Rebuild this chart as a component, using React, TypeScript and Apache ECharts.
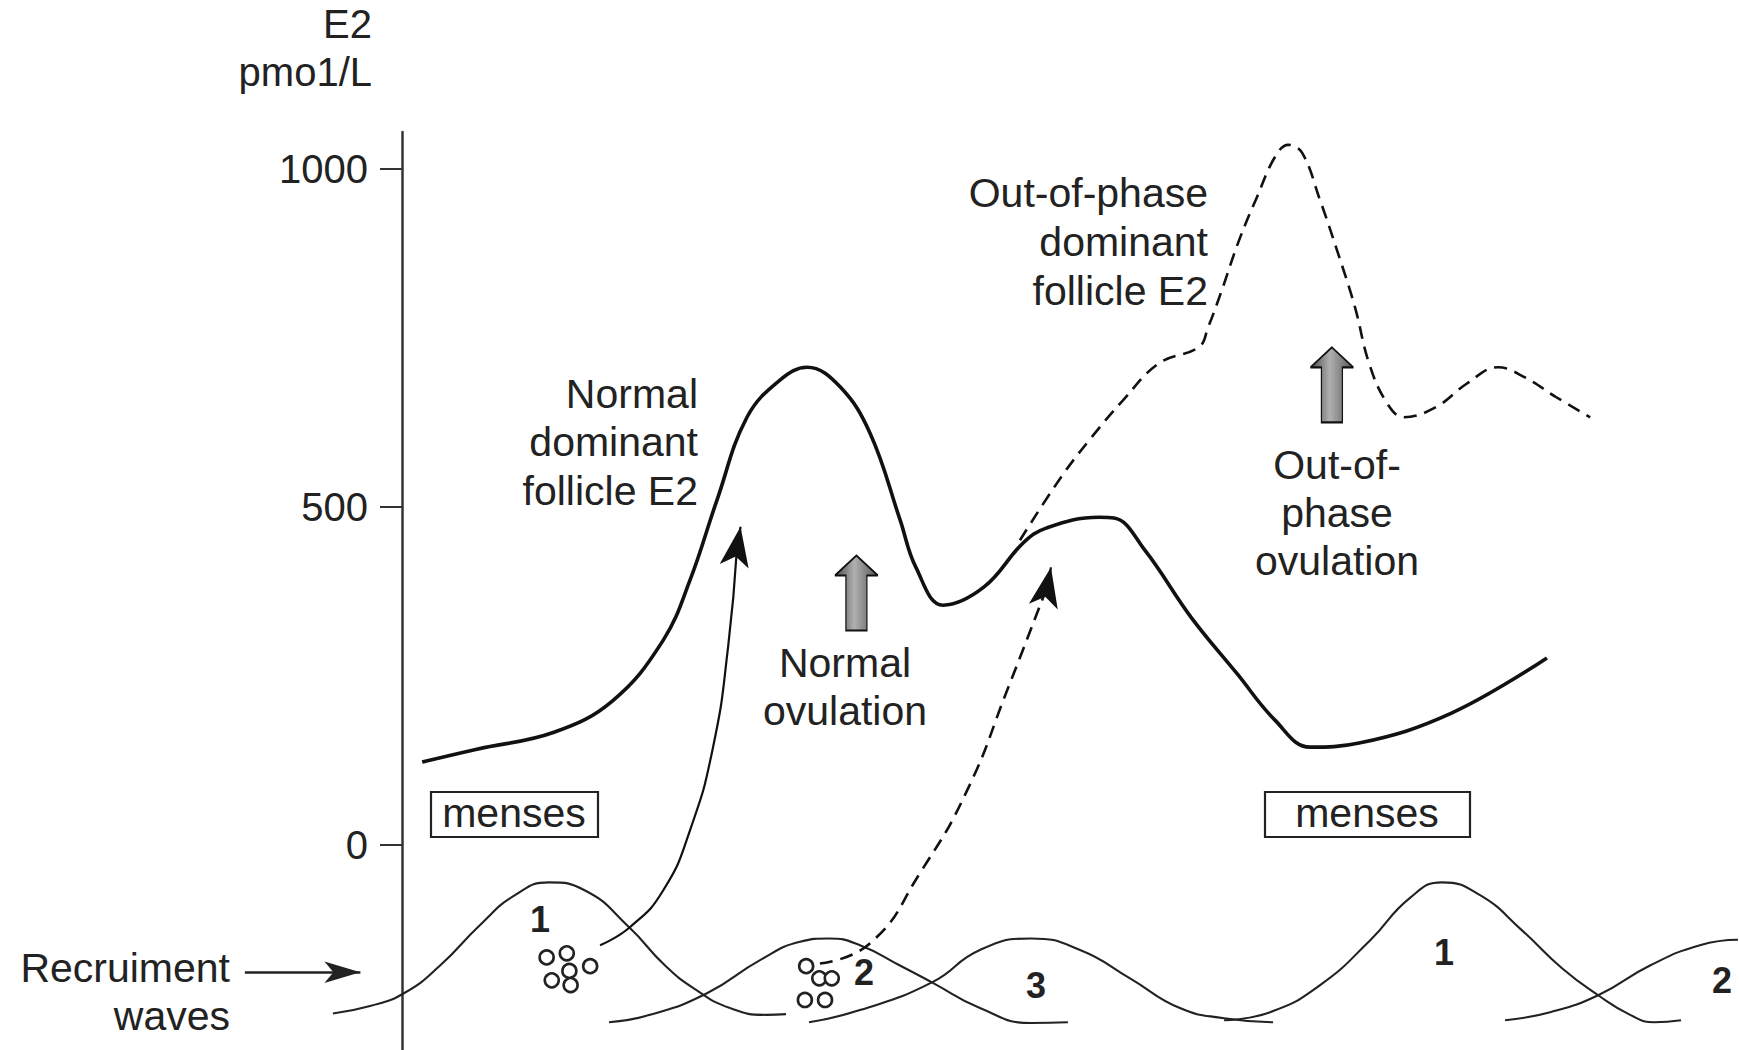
import React, { useEffect, useRef } from "react";
import * as echarts from "echarts";

const FONT = "'Liberation Sans', Arial, Helvetica, sans-serif";

// ---- axis ----
const yTickValues = [0, 500, 1000];
const yAxisTitle = "E2\npmo1/L";

// ---- E2 curves (x: cycle day, y: E2 pmol/L) ----
const normalE2: number[][] = [
  [0.63, 123], [2.34, 142], [4.75, 167], [6.59, 214], [8.16, 303], [9.0, 392],
  [9.84, 510], [10.78, 633], [11.81, 688], [12.66, 707], [13.69, 678], [14.63, 609],
  [15.56, 482], [16.06, 411], [16.91, 355], [18.19, 382], [19.41, 447], [20.13, 469],
  [21.78, 485], [22.25, 484], [23.22, 436], [24.66, 337], [26.09, 254], [27.28, 185],
  [28.38, 145], [29.91, 151], [32.78, 195], [35.78, 277],
];
const outOfPhaseE2: number[][] = [
  [19.31, 451], [20.59, 544], [21.56, 604], [22.53, 658], [23.66, 713], [24.91, 737],
  [25.19, 766], [25.59, 817], [26.16, 895], [26.72, 959], [27.28, 1018], [27.69, 1036],
  [28.13, 1024], [28.69, 954], [29.22, 880], [29.78, 796], [30.22, 713], [30.78, 654],
  [31.31, 633], [32.31, 648], [33.28, 683], [34.25, 707], [35.09, 692], [36.06, 663],
  [37.13, 633],
];

// ---- recruitment waves ----
const wave1a: number[][] = [
  [-2.16, -249], [-1.0, -238], [0.06, -219], [1.19, -178], [2.44, -118], [3.53, -74],
  [4.59, -55], [5.72, -67], [7.09, -121], [8.22, -178], [9.19, -214], [10.25, -241],
  [11.38, -251], [12.0, -250],
];
const wave2a: number[][] = [
  [6.47, -262], [7.75, -251], [9.53, -219], [11.19, -170], [12.44, -143], [13.34, -138],
  [14.31, -148], [15.56, -178], [16.56, -203], [18.06, -241], [19.66, -263], [20.81, -262],
];
const wave3a: number[][] = [
  [12.72, -262], [14.31, -244], [16.56, -203], [18.06, -155], [19.66, -138], [21.19, -155],
  [22.75, -197], [24.31, -241], [25.69, -256], [27.22, -262],
];
const wave1b: number[][] = [
  [25.69, -259], [27.13, -247], [28.69, -207], [30.25, -141], [31.5, -78], [32.5, -55],
  [33.69, -74], [35.0, -126], [36.25, -182], [37.38, -222], [38.38, -251], [39.13, -262],
  [39.97, -259],
];
const wave2b: number[][] = [
  [34.47, -259], [35.88, -247], [37.38, -222], [39.0, -178], [40.56, -148], [41.75, -140],
];

// ---- follicles ----
const follicles1: number[][] = [
  [4.52, -166], [5.15, -160], [5.23, -186], [5.88, -179], [4.68, -200], [5.27, -207],
];
const follicles2: number[][] = [
  [12.63, -179], [13.04, -197], [13.43, -197], [12.59, -229], [13.22, -229],
];

// ---- arrows ----
const normalArrowBody: number[][] = [
  [6.19, -148], [7.13, -121], [8.16, -67], [9.0, 22], [9.72, 145], [10.19, 293], [10.47, 441],
];
const normalArrowHead: number[][] = [[10.44, 430], [10.58, 471]];
const outArrowBody: number[][] = [
  [13.06, -175], [14.63, -145], [16.19, -41], [17.66, 81], [18.91, 229], [20.16, 382],
];
const outArrowHead: number[][] = [[20.12, 372], [20.28, 411]];
const recruitArrow: number[][] = [[-4.91, -188], [-1.3, -188]];

// ---- ovulation block arrows ----
const ovulationArrows: number[][] = [[14.2, 373], [29.06, 681]];

// ---- texts ----
const txtNormalFollicle = "Normal\ndominant\nfollicle E2";
const txtOutFollicle = "Out-of-phase\ndominant\nfollicle E2";
const txtNormalOv = "Normal\novulation";
const txtOutOv = "Out-of-\nphase\novulation";
const txtRecruit = "Recruiment\nwaves";
const txtMenses = "menses";
const waveNumbers = ["1", "2", "3", "1", "2"];

const BLOCK_ARROW = "path://M21.5,0 L43,20 L32,20 L32,75 L11,75 L11,20 L0,20 Z";

function textEl(text: string, x: number, baseline1: number, align: string, size: number, lh: number, bold = false) {
  const top = baseline1 - 0.3465 * size - lh / 2;
  return {
    type: "text",
    x,
    y: top,
    silent: true,
    style: {
      text,
      fill: "#222",
      fontSize: size,
      fontFamily: FONT,
      fontWeight: bold ? "bold" : "normal",
      lineHeight: lh,
      align,
      textAlign: align,
      verticalAlign: "top",
      textVerticalAlign: "top",
    },
  };
}

export default function App() {
  const ref = useRef<HTMLDivElement>(null);
  useEffect(() => {
    if (!ref.current) return;
    const chart = echarts.init(ref.current, null, { renderer: "svg" });
    const waveLine = (name: string, data: number[][]) => ({
      name,
      type: "line",
      data,
      smooth: 0.5,
      symbol: "none",
      silent: true,
      lineStyle: { color: "#222", width: 2.1 },
    });
    const option: any = {
      animation: false,
      backgroundColor: "#ffffff",
      textStyle: { fontFamily: FONT },
      grid: { left: 2, right: 1, top: 132, bottom: 0, containLabel: false, outerBoundsMode: "none" },
      xAxis: {
        type: "value",
        min: -12.5,
        max: 41.75,
        show: false,
        axisLine: { onZero: false },
        splitLine: { show: false },
      },
      yAxis: {
        type: "value",
        min: -303,
        max: 1055,
        position: "left",
        offset: -400,
        name: yAxisTitle,
        nameLocation: "end",
        nameGap: 36,
        nameTextStyle: {
          fontSize: 40,
          lineHeight: 48,
          color: "#222",
          fontFamily: FONT,
          align: "right",
          verticalAlign: "bottom",
          padding: [0, 30, 0, 0],
        },
        axisLine: { show: true, onZero: false, lineStyle: { color: "#333", width: 2.5 } },
        axisTick: { show: true, length: 22, customValues: yTickValues, lineStyle: { color: "#333", width: 2 } },
        axisLabel: {
          customValues: yTickValues,
          margin: 34,
          fontSize: 40,
          color: "#222",
          fontFamily: FONT,
          formatter: (v: number) => String(v),
        },
        splitLine: { show: false },
      },
      series: [
        {
          name: "Normal dominant follicle E2",
          type: "line",
          data: normalE2,
          smooth: 0.4,
          symbol: "none",
          silent: true,
          lineStyle: { color: "#111", width: 3.6 },
          z: 5,
        },
        {
          name: "Out-of-phase dominant follicle E2",
          type: "line",
          data: outOfPhaseE2,
          smooth: 0.4,
          symbol: "none",
          silent: true,
          lineStyle: { color: "#111", width: 2.6, type: [13, 8] },
          z: 4,
        },
        waveLine("Wave 1", wave1a),
        waveLine("Wave 2", wave2a),
        waveLine("Wave 3", wave3a),
        waveLine("Wave 1 (next)", wave1b),
        waveLine("Wave 2 (next)", wave2b),
        {
          name: "Normal recruitment arrow",
          type: "line",
          data: normalArrowBody,
          smooth: 0.5,
          symbol: "none",
          silent: true,
          lineStyle: { color: "#111", width: 2.2 },
        },
        {
          name: "Out-of-phase recruitment arrow",
          type: "line",
          data: outArrowBody,
          smooth: 0.5,
          symbol: "none",
          silent: true,
          lineStyle: { color: "#111", width: 2.6, type: [13, 8] },
        },
        {
          name: "Arrow heads",
          type: "lines",
          coordinateSystem: "cartesian2d",
          silent: true,
          symbol: ["none", "arrow"],
          symbolSize: [8, [22, 40]],
          lineStyle: { color: "#111", width: 2.2, opacity: 1, curveness: 0 },
          itemStyle: { color: "#111" },
          data: [{ coords: normalArrowHead }, { coords: outArrowHead }],
        },
        {
          name: "Recruitment pointer",
          type: "lines",
          coordinateSystem: "cartesian2d",
          silent: true,
          symbol: ["none", "arrow"],
          symbolSize: [8, [16, 36]],
          lineStyle: { color: "#222", width: 2.6, opacity: 1, curveness: 0 },
          itemStyle: { color: "#222" },
          data: [{ coords: recruitArrow }],
        },
        {
          name: "Ovulation",
          type: "scatter",
          data: ovulationArrows,
          symbol: BLOCK_ARROW,
          symbolSize: [43, 75],
          silent: true,
          itemStyle: {
            color: {
              type: "linear",
              x: 0, y: 0, x2: 1, y2: 0,
              colorStops: [
                { offset: 0, color: "#4a4a4a" },
                { offset: 0.45, color: "#b0b0b0" },
                { offset: 1, color: "#555555" },
              ],
            },
            borderColor: "#111",
            borderWidth: 1.6,
            opacity: 1,
          },
          z: 6,
        },
        {
          name: "Follicles",
          type: "scatter",
          data: [...follicles1, ...follicles2],
          symbol: "circle",
          symbolSize: 14,
          silent: true,
          itemStyle: { color: "#fff", borderColor: "#222", borderWidth: 2.6, opacity: 1 },
          z: 6,
        },
      ],
      graphic: [
        textEl(txtNormalFollicle, 698, 408, "right", 41, 48.5),
        textEl(txtOutFollicle, 1208, 207, "right", 41, 49),
        textEl(txtNormalOv, 845, 677, "center", 41, 48),
        textEl(txtOutOv, 1337, 479, "center", 41, 48),
        textEl(txtRecruit, 230, 982, "right", 41, 48),
        {
          type: "rect",
          silent: true,
          shape: { x: 431, y: 792, width: 167, height: 45 },
          style: { fill: "none", stroke: "#222", lineWidth: 2.2 },
        },
        {
          type: "rect",
          silent: true,
          shape: { x: 1265, y: 792, width: 205, height: 45 },
          style: { fill: "none", stroke: "#222", lineWidth: 2.2 },
        },
        textEl(txtMenses, 514, 827, "center", 41, 48),
        textEl(txtMenses, 1367, 827, "center", 41, 48),
        textEl(waveNumbers[0], 540, 932, "center", 36, 40, true),
        textEl(waveNumbers[1], 864, 985, "center", 36, 40, true),
        textEl(waveNumbers[2], 1036, 998, "center", 36, 40, true),
        textEl(waveNumbers[3], 1444, 965, "center", 36, 40, true),
        textEl(waveNumbers[4], 1722, 993, "center", 36, 40, true),
      ],
    };
    chart.setOption(option);
    return () => chart.dispose();
  }, []);
  return (
    <div
      ref={ref}
      style={{ position: "absolute", left: 0, top: 0, width: 1739, height: 1050, background: "#fff" }}
    />
  );
}
